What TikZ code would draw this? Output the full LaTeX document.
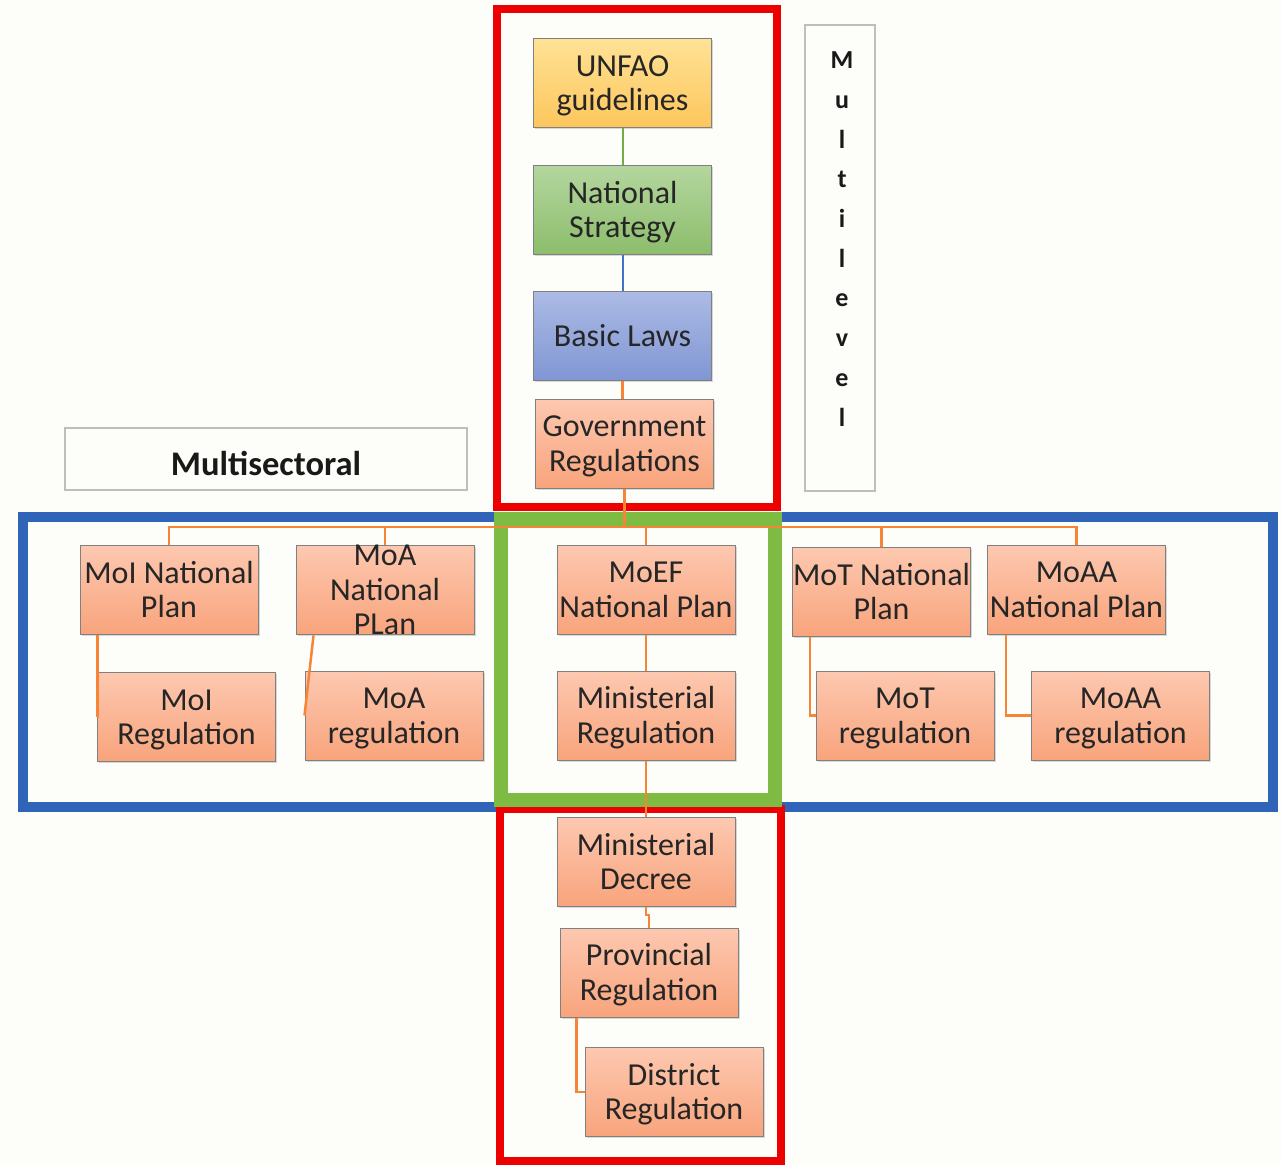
\documentclass[tikz,border=0pt]{standalone}
\usepackage{fontspec}
\setmainfont{Carlito}
\usetikzlibrary{calc,shadows}

\definecolor{bgpaper}{RGB}{253,253,249}
\definecolor{frameRed}{RGB}{236,0,0}
\definecolor{frameBlue}{RGB}{47,100,184}
\definecolor{frameGreen}{RGB}{125,187,66}
\definecolor{edgeGray}{RGB}{128,128,128}
\definecolor{lightGray}{RGB}{190,190,190}
\definecolor{linkOrange}{RGB}{246,133,54}
\definecolor{linkGreen}{RGB}{112,173,71}
\definecolor{linkBlue}{RGB}{68,114,196}
\definecolor{salmonTop}{RGB}{253,200,176}
\definecolor{salmonBot}{RGB}{248,164,124}
\definecolor{goldTop}{RGB}{255,226,150}
\definecolor{goldBot}{RGB}{253,198,92}
\definecolor{leafTop}{RGB}{180,214,158}
\definecolor{leafBot}{RGB}{140,189,108}
\definecolor{skyTop}{RGB}{172,187,229}
\definecolor{skyBot}{RGB}{128,150,211}

% fixed line metrics, so every box centres its lines the same way
\newcommand{\firstStrut}{\rule{0pt}{28pt}}
\newcommand{\lastStrut}{\rule[-7.5pt]{0pt}{7.5pt}}
\newcommand{\oneline}[1]{\firstStrut#1\lastStrut}
\newcommand{\twolines}[2]{\firstStrut#1\\#2\lastStrut}

\tikzset{
  card/.style={draw=edgeGray, line width=1pt, minimum width=178pt, minimum height=89pt,
    inner sep=0pt, align=center, text=black!85,
    font=\fontsize{32}{34.5}\selectfont,
    drop shadow={shadow xshift=1.5pt, shadow yshift=-1.5pt, opacity=0.25, fill=black!60}},
  salmon/.style={card, top color=salmonTop, bottom color=salmonBot},
  gold/.style={card, top color=goldTop, bottom color=goldBot},
  leaf/.style={card, top color=leafTop, bottom color=leafBot},
  sky/.style={card, top color=skyTop, bottom color=skyBot},
  link/.style={draw=linkOrange, line width=2.5pt},
  labelbox/.style={draw=lightGray, line width=2.5pt, fill=bgpaper}
}

\begin{document}
\begin{tikzpicture}[x=1pt, y=-1pt]
  % page
  \fill[bgpaper] (0,0) rectangle (1281,1165);
  \useasboundingbox (0,0) rectangle (1281,1165);

  % side captions
  \node[labelbox, minimum width=70pt, minimum height=466pt, inner sep=0pt] (mlbox) at (840,258) {};
  \node[font=\fontsize{26}{39.7}\selectfont\bfseries, align=center, inner sep=0pt, text=black!90]
    (mltext) at (842,239) {M\\u\\l\\t\\i\\l\\e\\v\\e\\l};
  \node[labelbox, minimum width=402pt, minimum height=62pt, inner sep=0pt,
    text height=32pt, text depth=0pt,
    font=\fontsize{34.5}{38}\selectfont\bfseries, text=black!90] (mstext) at (266,459) {Multisectoral};

  % frames
  \draw[frameBlue, line width=10pt] (23,517) rectangle (1273,807);
  \draw[frameRed, line width=8pt] (497,9) rectangle (777,507);
  \draw[frameRed, line width=8pt] (500,809) rectangle (781,1161);

  % vertical chain
  \node[gold]   (unfao) at (622.5,83)    {\twolines{UNFAO}{guidelines}};
  \node[leaf]   (nstr)  at (622.5,210)   {\twolines{National}{Strategy}};
  \node[sky]    (blaw)  at (622.5,336)   {\oneline{Basic Laws}};
  \node[salmon] (greg)  at (624.5,443.5) {\twolines{Government}{Regulations}};

  % sector plans
  \node[salmon] (moip)  at (169,590)      {\twolines{MoI National}{Plan}};
  \node[salmon] (moap)  at (385,590)      {MoA\\National\\PLan};
  \node[salmon] (moefp) at (646,589.5)    {\twolines{MoEF}{National Plan}};
  \node[salmon] (motp)  at (881.5,592)    {\twolines{MoT National}{Plan}};
  \node[salmon] (moaap) at (1076.5,589.5) {\twolines{MoAA}{National Plan}};

  % sector regulations
  \node[salmon] (moir)  at (186.5,717)    {\twolines{MoI}{Regulation}};
  \node[salmon] (moar)  at (394,715.5)    {\twolines{MoA}{regulation}};
  \node[salmon] (minr)  at (646,715.5)    {\twolines{Ministerial}{Regulation}};
  \node[salmon] (motr)  at (905,715.5)    {\twolines{MoT}{regulation}};
  \node[salmon] (moaar) at (1120.5,715.5) {\twolines{MoAA}{regulation}};

  % lower chain
  \node[salmon] (mind)  at (646,862)      {\twolines{Ministerial}{Decree}};
  \node[salmon] (provr) at (649,972.5)    {\twolines{Provincial}{Regulation}};
  \node[salmon] (distr) at (674,1092)     {\twolines{District}{Regulation}};

  % green frame on top of the crossing
  \draw[frameGreen, line width=14pt] (501,519) rectangle (775,800);

  % connectors
  \coordinate (bus) at (0,527);
  \draw[draw=linkGreen, line width=2pt] (unfao.south) -- (nstr.north);
  \draw[draw=linkBlue, line width=2pt] (nstr.south) -- (blaw.north);
  \draw[link] (blaw.south) -- (blaw.south |- greg.north);
  \draw[link] (greg.south) -- (greg.south |- bus);
  \draw[link] (moip.north) -- (moip.north |- bus) -| (moaap.north);
  \draw[link] (moap.north) -- (moap.north |- bus);
  \draw[link] (moefp.north) -- (moefp.north |- bus);
  \draw[link] (motp.north) -- (motp.north |- bus);

  \draw[link] ($(moip.south west)+(18,0)$) |- (moir.west);
  \draw[link] ($(moap.south west)+(18,0)$) -- (moar.west);
  \draw[link] (moefp.south) -- (minr.north);
  \draw[link] ($(motp.south west)+(18,0)$) |- (motr.west);
  \draw[link] ($(moaap.south west)+(19,0)$) |- (moaar.west);

  \draw[link] (minr.south) -- (mind.north);
  \draw[link] (mind.south) -- ++(0,8) -| (provr.north);
  \draw[link] ($(provr.south west)+(17,0)$) |- (distr.west);
\end{tikzpicture}
\end{document}
